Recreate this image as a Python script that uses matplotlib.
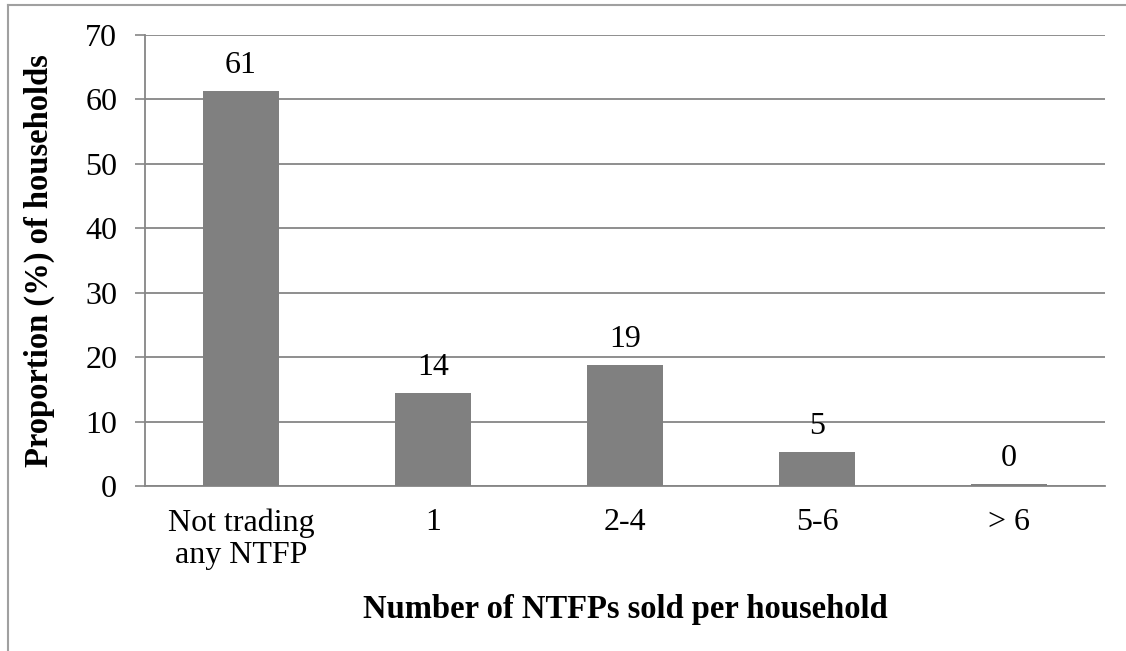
import matplotlib.pyplot as plt
from matplotlib.lines import Line2D

# Share of households by number of NTFPs sold
categories = ["Not trading\nany NTFP", "1", "2-4", "5-6", "> 6"]
proportions = [61.3, 14.4, 18.8, 5.2, 0.3]

plt.rcParams['font.family'] = ['Liberation Serif', 'DejaVu Serif']

fig = plt.figure(figsize=(11.26, 6.51), dpi=100)
ax = fig.add_axes([145 / 1126, 1 - 486 / 651, 960 / 1126, 451 / 651])

grey = '#868686'
x = range(len(categories))
bars = ax.bar(x, proportions, width=0.4, color='#808080', zorder=3)

for xi, v in zip(x, proportions):
    ax.annotate(f"{v:.0f}", (xi, v), xytext=(0, 8), textcoords='offset points',
                ha='center', va='bottom', fontsize=23)

ax.set_xlim(-0.5, len(categories) - 0.5)
ax.set_ylim(0, 70)
ax.set_yticks(range(0, 71, 10))
ax.set_xticks(list(x))
ax.set_xticklabels(categories, fontsize=23, linespacing=1.15)
ax.tick_params(axis='y', labelsize=23, length=7, width=1.2, color=grey, pad=13)
ax.tick_params(axis='x', length=0, pad=16)

ax.grid(axis='y', color=grey, linewidth=1.3, zorder=0)
for side in ['top', 'right']:
    ax.spines[side].set_visible(False)
for side in ['left', 'bottom']:
    ax.spines[side].set_color(grey)
    ax.spines[side].set_linewidth(1.3)

ax.set_ylabel("Proportion (%) of households", fontsize=23.5, fontweight='bold', labelpad=22)
ax.set_xlabel("Number of NTFPs sold per household", fontsize=23.5, fontweight='bold', labelpad=17)

# outer chart frame (top and left edges)
fig.add_artist(Line2D([8 / 1126, 8 / 1126], [0, 1 - 5 / 651], color='#a0a0a0', linewidth=1.5))
fig.add_artist(Line2D([8 / 1126, 1], [1 - 5 / 651, 1 - 5 / 651], color='#a0a0a0', linewidth=1.5))

fig.savefig("out.png", dpi=100)
